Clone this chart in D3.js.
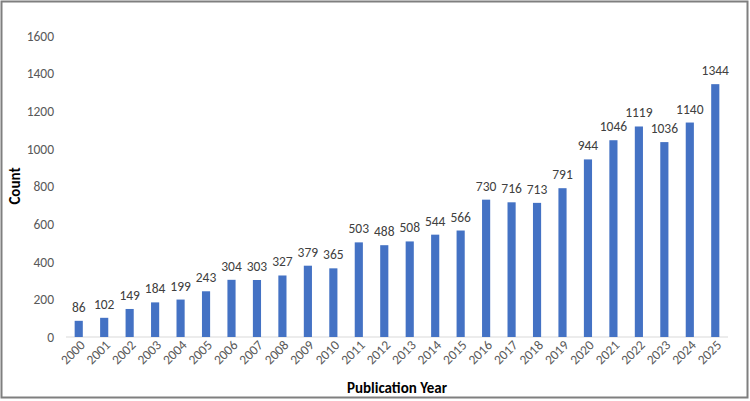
<!DOCTYPE html>
<html><head><meta charset="utf-8">
<script src="https://cdn.jsdelivr.net/npm/d3@7"></script>
<style>body{margin:0;background:#fff}svg{display:block}</style>
</head><body>
<svg id="c" width="750" height="401"></svg>
<script>
const years = ["2000","2001","2002","2003","2004","2005","2006","2007","2008","2009","2010","2011","2012","2013","2014","2015","2016","2017","2018","2019","2020","2021","2022","2023","2024","2025"];
const counts = [86,102,149,184,199,243,304,303,327,379,365,503,488,508,544,566,730,716,713,791,944,1046,1119,1036,1140,1344];
const yTicks = [0,200,400,600,800,1000,1200,1400,1600];

const svg = d3.select("#c");
const font = "Calibri, Carlito, 'Liberation Sans', 'Open Sans', sans-serif";
svg.append("rect").attr("x",1.5).attr("y",1.5).attr("width",746).attr("height",396)
  .attr("fill","#fff").attr("stroke","#7f7f7f").attr("stroke-width",2);

const x = d3.scaleBand().domain(years).range([66,728]).paddingInner(0.68).paddingOuter(0.34);
const y = d3.scaleLinear().domain([0,1600]).range([337,36]);

// y axis labels
const ya = svg.append("g").attr("transform","translate(66,0)")
  .call(d3.axisLeft(y).tickValues(yTicks).tickFormat(d3.format("d")).tickSize(0).tickPadding(12));
ya.select(".domain").remove();
ya.selectAll("text").attr("font-family",font).attr("font-size",13.5).attr("fill","#595959");

// baseline
svg.append("line").attr("x1",66).attr("x2",728).attr("y1",y(0)).attr("y2",y(0))
  .attr("stroke","#d9d9d9").attr("stroke-width",1);

// bars
svg.append("g").selectAll("rect").data(counts).join("rect")
  .attr("x",(d,i)=>x(years[i])).attr("width",x.bandwidth())
  .attr("y",d=>y(d)).attr("height",d=>y(0)-y(d)).attr("fill","#4472C4");

// data labels
svg.append("g").selectAll("text").data(counts).join("text")
  .attr("x",(d,i)=>x(years[i])+x.bandwidth()/2).attr("y",d=>y(d)-9)
  .attr("text-anchor","middle").attr("font-family",font).attr("font-size",13.5).attr("fill","#404040")
  .text(d=>d);

// x axis
const xa = svg.append("g").attr("transform",`translate(0,${y(0)})`)
  .call(d3.axisBottom(x).tickSize(0).tickPadding(0));
xa.select(".domain").remove();
xa.selectAll("text").attr("font-family",font).attr("font-size",13.5).attr("fill","#595959")
  .attr("text-anchor","end").attr("dy",0)
  .attr("transform","translate(7,9) rotate(-45)");

// axis titles
svg.append("text").attr("x",397).attr("y",393).attr("text-anchor","middle")
  .attr("font-family",font).attr("font-size",15).attr("font-weight","bold").attr("fill","#000")
  .text("Publication Year");
svg.append("text").attr("transform","translate(20,186) rotate(-90)").attr("text-anchor","middle")
  .attr("font-family",font).attr("font-size",15).attr("font-weight","bold").attr("fill","#000")
  .text("Count");
</script>
</body></html>
